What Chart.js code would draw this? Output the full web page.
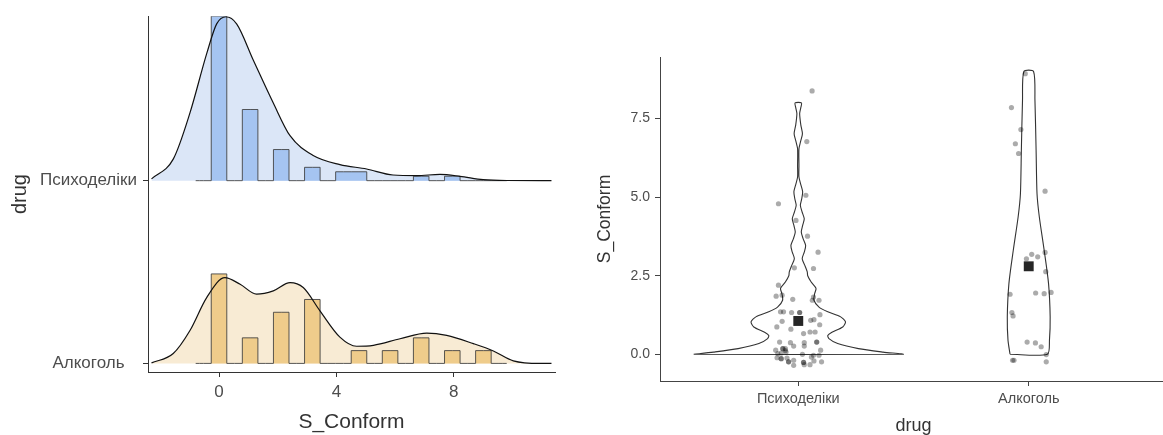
<!DOCTYPE html>
<html>
<head>
<meta charset="utf-8">
<script src="https://cdn.jsdelivr.net/npm/chart.js@4.4.1/dist/chart.umd.min.js"></script>
<style>
  html, body { margin: 0; padding: 0; background: #fff; }
  #wrap { position: relative; width: 1163px; height: 435px; overflow: hidden; }
  #left { position: absolute; left: 0; top: 0; }
  #right { position: absolute; left: 560px; top: 0; }
</style>
</head>
<body>
<div id="wrap">
  <canvas id="left" width="580" height="435"></canvas>
  <canvas id="right" width="614" height="435"></canvas>
</div>
<script>
const groups = ['Психоделіки', 'Алкоголь'];

// ---- left panel: ridgeline (histogram + density) ----
const binWidth = 0.53;
const binK = [-1, 0, 1, 2, 3, 4, 5, 6, 7, 8, 9, 10, 11, 12, 13, 14, 15, 16, 17, 18];
const psyCounts = [0, 37, 0, 16, 0, 7, 0, 3, 0, 2, 2, 0, 0, 0, 1, 0, 1, 0, 0, 0];
const alcCounts = [0, 7, 0, 2, 0, 4, 0, 5, 0, 0, 1, 0, 1, 0, 2, 0, 1, 0, 1, 0];
const ridgeScale = 0.89;

const psyDensX = [-2.3, -1.56, -0.99, -0.42, -0.08, 0.24, 0.6, 1.17, 1.85, 2.42, 3.21, 4.12, 5.03, 5.93, 6.74, 7.53, 8.21, 9.0, 9.8, 11.33];
const psyDensY = [0.010, 0.118, 0.371, 0.695, 0.858, 0.897, 0.858, 0.659, 0.425, 0.246, 0.138, 0.088, 0.064, 0.031, 0.028, 0.034, 0.024, 0.006, 0.001, 0];
const alcDensX = [-2.3, -1.56, -0.99, -0.42, 0.2, 0.72, 1.28, 1.85, 2.42, 2.87, 3.44, 4.12, 4.69, 5.26, 6.17, 7.08, 7.76, 8.67, 9.35, 10.03, 10.94, 11.33];
const alcDensY = [0.003, 0.054, 0.180, 0.360, 0.469, 0.433, 0.379, 0.397, 0.442, 0.415, 0.288, 0.144, 0.094, 0.099, 0.135, 0.166, 0.153, 0.108, 0.068, 0.014, 0, 0];
const leftXTicks = [0, 4, 8];

// ---- right panel: violins + jitter + mean ----
const psyViolinV = [0, 0.07, 0.18, 0.34, 0.5, 0.6, 0.7, 0.87, 1.03, 1.19, 1.35, 1.5, 1.72, 1.93, 2.1, 2.3, 2.5, 2.62, 2.8, 3.04, 3.25, 3.46, 3.68, 3.89, 4.1, 4.31, 4.52, 4.74, 4.95, 5.17, 5.4, 5.64, 6.0, 6.54, 6.8, 7.02, 7.3, 7.66, 7.85, 8.0];
const psyViolinHalf = [0.454, 0.368, 0.261, 0.171, 0.133, 0.128, 0.146, 0.193, 0.205, 0.184, 0.128, 0.090, 0.068, 0.071, 0.077, 0.056, 0.041, 0.039, 0.030, 0.017, 0.026, 0.032, 0.021, 0.013, 0.019, 0.026, 0.017, 0.009, 0.015, 0.019, 0.011, 0.003, 0.003, 0.003, 0.011, 0.018, 0.011, 0.006, 0.011, 0.014];
const alcViolinV = [0, 0.45, 1.19, 2.25, 3.31, 4.37, 5.11, 6.49, 8.08, 9.0];
const alcViolinHalf = [0.081, 0.090, 0.093, 0.086, 0.067, 0.046, 0.036, 0.032, 0.027, 0.021];

const psyPtsX = [1.060, 1.037, 0.914, 1.033, 0.990, 1.040, 1.086, 0.983, 1.066, 0.914, 0.904, 0.930, 0.976, 1.061, 1.090, 1.066, 0.923, 0.936, 0.971, 1.006, 1.094, 1.054, 1.068, 0.930, 1.093, 0.907, 0.968, 1.023, 1.051, 1.073, 0.919, 0.966, 1.026, 1.080, 0.980, 1.026, 0.902, 0.933, 0.944, 1.097, 0.911, 0.926, 0.947, 1.018, 1.066, 1.090, 0.908, 0.926, 0.951, 1.057, 1.068, 0.958, 0.980, 1.023, 0.980, 1.026, 1.051, 1.101, 1.006, 1.080, 0.933, 0.944, 0.926, 0.958, 1.023];
const psyPtsY = [8.38, 6.77, 4.79, 5.06, 4.26, 3.76, 3.25, 2.75, 2.73, 2.20, 1.85, 1.88, 1.75, 1.72, 1.72, 1.82, 1.35, 1.35, 1.33, 1.33, 1.26, 1.08, 1.10, 1.05, 0.94, 0.87, 0.80, 0.66, 0.71, 0.71, 0.39, 0.37, 0.37, 0.39, 0.26, 0.26, 0.13, 0.18, 0.18, 0.13, 0.02, 0.04, 0.07, 0.00, -0.03, -0.03, -0.11, -0.14, -0.12, -0.09, -0.21, -0.24, -0.19, -0.26, -0.35, -0.33, -0.33, -0.24, 1.33, 0.39, 0.18, 0.12, -0.14, -0.24, -0.26];
const alcPtsX = [1.985, 1.925, 1.966, 1.942, 1.956, 2.071, 2.071, 2.013, 1.990, 2.039, 2.074, 1.919, 2.030, 2.067, 2.097, 1.927, 1.932, 1.993, 2.029, 2.054, 2.076, 1.930, 1.936, 2.076];
const alcPtsY = [8.93, 7.85, 7.15, 6.70, 6.39, 5.19, 3.24, 3.18, 3.04, 3.10, 2.63, 1.91, 1.95, 1.93, 1.97, 1.33, 1.22, 0.39, 0.36, 0.24, -0.01, -0.19, -0.19, -0.24];
const meanX = [1, 2];
const meanY = [1.06, 2.80];
const rightYTicks = [0, 2.5, 5, 7.5];

const fontFam = '"Liberation Sans", Arial, sans-serif';
const tickGrey = '#4d4d4d';

function histPoints(counts, base) {
  const n = counts.reduce((a, b) => a + b, 0);
  const h = c => base + c / (n * binWidth) * ridgeScale;
  const pts = [{x: (binK[0] - 0.5) * binWidth, y: h(counts[0])}];
  binK.forEach((k, i) => pts.push({x: k * binWidth, y: h(counts[i])}));
  pts.push({x: (binK[binK.length - 1] + 0.5) * binWidth, y: h(counts[counts.length - 1])});
  return pts;
}
function densPoints(xs, ys, base) {
  return xs.map((x, i) => ({x: x, y: base + ys[i]}));
}
function violinPath(center, vs, hw) {
  const left = vs.map((v, i) => ({x: center - hw[i], y: v}));
  const right = vs.map((v, i) => ({x: center + hw[i], y: v})).reverse();
  return left.concat(right, [left[0]]);
}

function ridgeSets(counts, dx, dy, base, barCol, areaCol) {
  return [
    { data: densPoints(dx, dy, base), borderColor: '#111', borderWidth: 1.2, fill: false,
      cubicInterpolationMode: 'monotone', pointRadius: 0, order: 1 },
    { data: histPoints(counts, base), borderColor: 'rgba(60,60,60,0.85)', borderWidth: 1,
      backgroundColor: barCol, fill: {value: base}, stepped: 'middle', pointRadius: 0, order: 2 },
    { data: densPoints(dx, dy, base), borderWidth: 0, borderColor: 'rgba(0,0,0,0)',
      backgroundColor: areaCol, fill: {value: base}, cubicInterpolationMode: 'monotone', pointRadius: 0, order: 3 }
  ];
}

new Chart(document.getElementById('left'), {
  type: 'line',
  data: {
    datasets: [
      ...ridgeSets(psyCounts, psyDensX, psyDensY, 2, '#a5c4f1', '#dbe6f7'),
      ...ridgeSets(alcCounts, alcDensX, alcDensY, 1, '#efcc8b', '#f8ebd4')
    ]
  },
  options: {
    responsive: false,
    animation: false,
    layout: { padding: { top: 12, right: 25, left: 0, bottom: 0 } },
    plugins: { legend: { display: false }, tooltip: { enabled: false } },
    scales: {
      x: {
        type: 'linear', min: -2.42, max: 11.45,
        afterBuildTicks: s => { s.ticks = leftXTicks.map(v => ({value: v})); },
        afterFit: s => { s.height = 63; },
        ticks: { color: tickGrey, font: { family: fontFam, size: 17 }, padding: 5 },
        grid: { display: true, drawOnChartArea: false, drawTicks: true, tickLength: 5, color: '#333' },
        border: { display: true, color: '#333', width: 1 },
        title: { display: true, text: 'S_Conform', color: '#333', font: { family: fontFam, size: 21 }, padding: { top: 0, bottom: 0 } }
      },
      y: {
        type: 'linear', min: 0.953, max: 2.90,
        afterBuildTicks: s => { s.ticks = [{value: 1}, {value: 2}]; },
        afterFit: s => { s.width = 148; },
        ticks: { color: tickGrey, font: { family: fontFam, size: 17 }, padding: 6, crossAlign: 'center',
          callback: v => (v === 2 ? groups[0] : groups[1]) },
        grid: { display: true, drawOnChartArea: false, drawTicks: true, tickLength: 5, color: '#333' },
        border: { display: true, color: '#333', width: 1 },
        title: { display: true, text: 'drug', color: '#333', font: { family: fontFam, size: 20 }, padding: { top: 8, bottom: 0 } }
      }
    }
  }
});

// right panel runs a little past the page edge, as in the reference crop
const ptColor = 'rgba(0,0,0,0.33)';
new Chart(document.getElementById('right'), {
  type: 'line',
  data: {
    datasets: [
      { data: meanX.map((x, i) => ({x: x, y: meanY[i]})), showLine: false, pointStyle: 'rect',
        pointRadius: 7, backgroundColor: '#262626', borderWidth: 0, order: 0 },
      { data: psyPtsX.map((x, i) => ({x: x, y: psyPtsY[i]})), showLine: false, pointRadius: 2.6,
        backgroundColor: ptColor, borderWidth: 0, order: 1 },
      { data: alcPtsX.map((x, i) => ({x: x, y: alcPtsY[i]})), showLine: false, pointRadius: 2.6,
        backgroundColor: ptColor, borderWidth: 0, order: 1 },
      { data: violinPath(1, psyViolinV, psyViolinHalf), borderColor: '#333', borderWidth: 1.1,
        fill: false, tension: 0.25, pointRadius: 0, order: 2 },
      { data: violinPath(2, alcViolinV, alcViolinHalf), borderColor: '#333', borderWidth: 1.1,
        fill: false, tension: 0.25, pointRadius: 0, order: 2 }
    ]
  },
  options: {
    responsive: false,
    animation: false,
    layout: { padding: { top: 57, right: 0, left: 0, bottom: 0 } },
    plugins: { legend: { display: false }, tooltip: { enabled: false } },
    scales: {
      x: {
        type: 'linear', min: 0.4, max: 2.6,
        afterBuildTicks: s => { s.ticks = [{value: 1}, {value: 2}]; },
        afterFit: s => { s.height = 54; },
        ticks: { color: tickGrey, font: { family: fontFam, size: 14.5 }, padding: 4,
          callback: v => groups[v - 1] },
        grid: { display: true, drawOnChartArea: false, drawTicks: true, tickLength: 5, color: '#444' },
        border: { display: true, color: '#444', width: 1 },
        title: { display: true, text: 'drug', color: '#333', font: { family: fontFam, size: 18, lineHeight: 1 }, padding: { top: 0, bottom: 0 } }
      },
      y: {
        type: 'linear', min: -0.85, max: 9.46,
        afterBuildTicks: s => { s.ticks = rightYTicks.map(v => ({value: v})); },
        afterFit: s => { s.width = 100; },
        ticks: { color: tickGrey, font: { family: fontFam, size: 14 }, padding: 5,
          callback: v => v.toFixed(1) },
        grid: { display: true, drawOnChartArea: false, drawTicks: true, tickLength: 5, color: '#444' },
        border: { display: true, color: '#444', width: 1 },
        title: { display: true, text: 'S_Conform', color: '#333', font: { family: fontFam, size: 17.5 }, padding: { top: 35, bottom: 0 } }
      }
    }
  }
});
</script>
</body>
</html>
